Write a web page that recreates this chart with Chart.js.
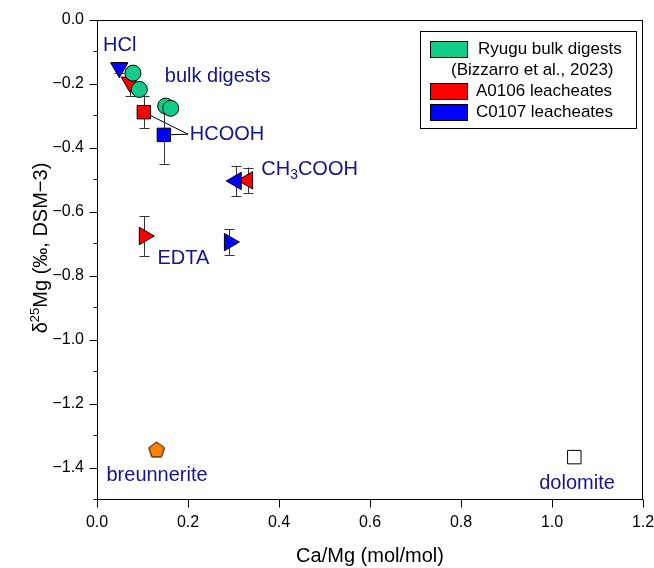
<!DOCTYPE html>
<html><head><meta charset="utf-8">
<script src="https://cdn.jsdelivr.net/npm/chart.js@4.4.0/dist/chart.umd.min.js"></script>
<style>html,body{margin:0;padding:0;background:#fff;}#wrap{width:654px;height:568px;position:relative;}</style>
</head><body><div id="wrap"><canvas id="c" width="654" height="568"></canvas></div>
<script>
// ---- data ----
const bulkX = [0.079, 0.093, 0.151, 0.162];
const bulkY = [-0.166, -0.217, -0.269, -0.276];
const bulkErr = [0.015, 0.015, 0.015, 0.015];

const leachCats = ['HCl', 'HCOOH', 'CH3COOH', 'EDTA'];
const a0106X = [0.072, 0.103, 0.331, 0.104];
const a0106Y = [-0.194, -0.288, -0.501, -0.675];
const a0106Err = [0.044, 0.049, 0.040, 0.062];
const c0107X = [0.049, 0.147, 0.306, 0.291];
const c0107Y = [-0.149, -0.359, -0.503, -0.694];
const c0107Err = [0.018, 0.090, 0.048, 0.040];

const breunneriteX = [0.131];
const breunneriteY = [-1.342];
const dolomiteX = [1.049];
const dolomiteY = [-1.366];

const xTickVals = [0, 0.2, 0.4, 0.6, 0.8, 1.0, 1.2];
const yTickVals = [0, -0.2, -0.4, -0.6, -0.8, -1.0, -1.2, -1.4];
const yMinorVals = [-0.1, -0.3, -0.5, -0.7, -0.9, -1.1, -1.3, -1.5];

// annotation labels (data coordinates)
const labelTexts = ['HCl', 'bulk digests', 'HCOOH', 'CH3COOH', 'EDTA', 'breunnerite', 'dolomite'];
const labelX = [0.050, 0.265, 0.204, 0.361, 0.190, 0.132, 1.055];
const labelY = [-0.081, -0.175, -0.357, -0.466, -0.744, -1.422, -1.447];
const labelAlign = ['center', 'center', 'left', 'left', 'center', 'center', 'center'];
const hcoohAnchor = [0.200, -0.357];

const legendItems = ['Ryugu bulk digests', '(Bizzarro et al., 2023)', 'A0106 leacheates', 'C0107 leacheates'];

const GREEN = '#11cc88', RED = '#ff0000', BLUE = '#0000ff', ORANGE = '#ff8000', NAVY = '#14148c';
const FONT = '"Liberation Sans", Arial, sans-serif';

function pts(xs, ys) { return xs.map((x, i) => ({x: x, y: ys[i]})); }

// pentagon marker
const pent = document.createElement('canvas');
pent.width = 20; pent.height = 20;
(function () {
  const g = pent.getContext('2d');
  g.beginPath();
  for (let i = 0; i < 5; i++) {
    const a = -Math.PI / 2 + i * 2 * Math.PI / 5;
    const X = 10 + 8.3 * Math.cos(a), Y = 10.8 + 8.3 * Math.sin(a);
    if (i === 0) g.moveTo(X, Y); else g.lineTo(X, Y);
  }
  g.closePath();
  g.fillStyle = ORANGE; g.fill();
  g.lineWidth = 1; g.strokeStyle = '#000'; g.stroke();
})();

const custom = {
  id: 'custom',
  beforeDatasetsDraw(chart) {
    const ctx = chart.ctx, sx = chart.scales.x, sy = chart.scales.y;
    ctx.save();
    // HCOOH leader lines
    ctx.strokeStyle = '#000'; ctx.lineWidth = 1;
    const ax = sx.getPixelForValue(hcoohAnchor[0]), ay = sy.getPixelForValue(hcoohAnchor[1]);
    [[a0106X[1], a0106Y[1]], [c0107X[1], c0107Y[1]]].forEach(p => {
      ctx.beginPath();
      ctx.moveTo(sx.getPixelForValue(p[0]), sy.getPixelForValue(p[1]));
      ctx.lineTo(ax, ay);
      ctx.stroke();
    });
    // error bars
    ctx.strokeStyle = '#333';
    const eb = (xs, ys, es) => xs.forEach((x, i) => {
      const X = Math.round(sx.getPixelForValue(x)) + 0.5;
      const y1 = sy.getPixelForValue(ys[i] + es[i]), y2 = sy.getPixelForValue(ys[i] - es[i]);
      ctx.beginPath();
      ctx.moveTo(X, y1); ctx.lineTo(X, y2);
      ctx.moveTo(X - 5, Math.round(y1) + 0.5); ctx.lineTo(X + 5, Math.round(y1) + 0.5);
      ctx.moveTo(X - 5, Math.round(y2) + 0.5); ctx.lineTo(X + 5, Math.round(y2) + 0.5);
      ctx.stroke();
    });
    eb(bulkX, bulkY, bulkErr);
    eb(a0106X, a0106Y, a0106Err);
    eb(c0107X, c0107Y, c0107Err);
    ctx.restore();
  },
  afterDraw(chart) {
    const ctx = chart.ctx, sx = chart.scales.x, sy = chart.scales.y, ca = chart.chartArea;
    ctx.save();
    // frame
    ctx.strokeStyle = '#000'; ctx.lineWidth = 1;
    const L = Math.round(ca.left) + 0.5, R = Math.round(ca.right) - 0.5, T = Math.round(ca.top) + 0.5, B = Math.round(ca.bottom) - 0.5;
    ctx.strokeRect(L, T, R - L, B - T);
    // ticks
    ctx.beginPath();
    yTickVals.forEach(v => { const Y = Math.round(sy.getPixelForValue(v)) + 0.5; ctx.moveTo(L - 8, Y); ctx.lineTo(L, Y); });
    yMinorVals.forEach(v => { const Y = Math.round(sy.getPixelForValue(v)) - 0.5; ctx.moveTo(L - 4, Y); ctx.lineTo(L, Y); });
    xTickVals.forEach(v => { const X = Math.round(sx.getPixelForValue(v)) + 0.5; ctx.moveTo(X, B); ctx.lineTo(X, B + 8); });
    ctx.stroke();

    // annotation labels
    ctx.fillStyle = NAVY;
    ctx.font = '20px ' + FONT;
    ctx.textBaseline = 'middle';
    labelTexts.forEach((t, i) => {
      const X = sx.getPixelForValue(labelX[i]), Y = sy.getPixelForValue(labelY[i]);
      ctx.textAlign = labelAlign[i];
      if (t === 'CH3COOH') {
        ctx.textAlign = 'left';
        ctx.font = '20px ' + FONT;
        ctx.fillText('CH', X, Y);
        let w = ctx.measureText('CH').width;
        ctx.font = '14px ' + FONT;
        ctx.fillText('3', X + w, Y + 6);
        w += ctx.measureText('3').width;
        ctx.font = '20px ' + FONT;
        ctx.fillText('COOH', X + w, Y);
      } else {
        ctx.fillText(t, X, Y);
      }
    });

    // legend
    ctx.fillStyle = '#fff';
    ctx.fillRect(420, 31, 216, 97);
    ctx.strokeStyle = '#000'; ctx.lineWidth = 1;
    ctx.strokeRect(420.5, 31.5, 216, 97);
    const sw = [[GREEN, 41], [RED, 83], [BLUE, 104]];
    sw.forEach(s => {
      ctx.fillStyle = s[0]; ctx.fillRect(430, s[1], 37, 16);
      ctx.strokeStyle = '#000'; ctx.strokeRect(430.5, s[1] + 0.5, 37, 16);
    });
    ctx.fillStyle = '#000';
    ctx.font = '17px ' + FONT;
    ctx.textAlign = 'left'; ctx.textBaseline = 'middle';
    ctx.fillText(legendItems[0], 478, 49);
    ctx.fillText(legendItems[1], 451, 70);
    ctx.fillText(legendItems[2], 476, 91);
    ctx.fillText(legendItems[3], 476, 112);

    // axis titles
    ctx.fillStyle = '#000';
    ctx.font = '20px ' + FONT;
    ctx.textAlign = 'center'; ctx.textBaseline = 'alphabetic';
    ctx.fillText('Ca/Mg (mol/mol)', (ca.left + ca.right) / 2, 562);

    ctx.translate(47, 248);
    ctx.rotate(-Math.PI / 2);
    ctx.textAlign = 'left';
    const f1 = '20px ' + FONT, f2 = '13px ' + FONT;
    ctx.font = f1; const w1 = ctx.measureText('\u03b4').width;
    ctx.font = f2; const w2 = ctx.measureText('25').width;
    ctx.font = f1; const w3 = ctx.measureText('Mg (\u2030, DSM\u22123)').width;
    let x0 = -(w1 + w2 + w3) / 2;
    ctx.font = f1; ctx.fillText('\u03b4', x0, 0); x0 += w1;
    ctx.font = f2; ctx.fillText('25', x0, -8); x0 += w2;
    ctx.font = f1; ctx.fillText('Mg (\u2030, DSM\u22123)', x0, 0);
    ctx.restore();
  }
};

new Chart(document.getElementById('c'), {
  type: 'scatter',
  data: {
    datasets: [
      {
        label: 'C0107 leacheates',
        data: pts(c0107X, c0107Y),
        pointStyle: ['triangle', 'rect', 'triangle', 'triangle'],
        rotation: [180, 0, -90, 90],
        pointRadius: [10, 9.5, 10, 10],
        backgroundColor: BLUE, borderColor: '#000', borderWidth: 1
      },
      {
        label: 'Ryugu bulk digests',
        data: pts(bulkX, bulkY),
        pointStyle: 'circle', pointRadius: 8,
        backgroundColor: GREEN, borderColor: '#000', borderWidth: 1
      },
      {
        label: 'A0106 leacheates',
        data: pts(a0106X, a0106Y),
        pointStyle: ['triangle', 'rect', 'triangle', 'triangle'],
        rotation: [180, 0, -90, 90],
        pointRadius: [10, 9.5, 10, 10],
        backgroundColor: RED, borderColor: '#000', borderWidth: 1
      },
      {
        label: 'breunnerite',
        data: pts(breunneriteX, breunneriteY),
        pointStyle: pent, pointRadius: 9
      },
      {
        label: 'dolomite',
        data: pts(dolomiteX, dolomiteY),
        pointStyle: 'rect', pointRadius: 9.5,
        backgroundColor: '#fff', borderColor: '#000', borderWidth: 1
      }
    ]
  },
  options: {
    responsive: false,
    animation: false,
    layout: {padding: {top: 20, right: 9, left: 0, bottom: 0}},
    plugins: {legend: {display: false}, tooltip: {enabled: false}},
    scales: {
      x: {
        type: 'linear', min: 0, max: 1.2,
        afterBuildTicks: s => { s.ticks = xTickVals.map(v => ({value: v})); },
        afterFit: s => { s.height = 68; s.paddingLeft = 0; s.paddingRight = 0; s.paddingTop = 0; s.paddingBottom = 0; },
        grid: {display: false, drawTicks: false},
        border: {display: false},
        ticks: {padding: 13, color: '#000', font: {size: 16, family: FONT}, maxRotation: 0,
          callback: v => Number(v).toFixed(1)}
      },
      y: {
        type: 'linear', min: -1.5, max: 0,
        afterBuildTicks: s => { s.ticks = yTickVals.map(v => ({value: v})); },
        afterFit: s => { s.width = 97; s.paddingLeft = 0; s.paddingRight = 0; s.paddingTop = 0; s.paddingBottom = 0; },
        grid: {display: false, drawTicks: false},
        border: {display: false},
        ticks: {padding: 13, color: '#000', font: {size: 16, family: FONT},
          callback: v => (v < 0 ? '\u2212' : '') + Math.abs(v).toFixed(1)}
      }
    }
  },
  plugins: [custom]
});
</script>
</body></html>
